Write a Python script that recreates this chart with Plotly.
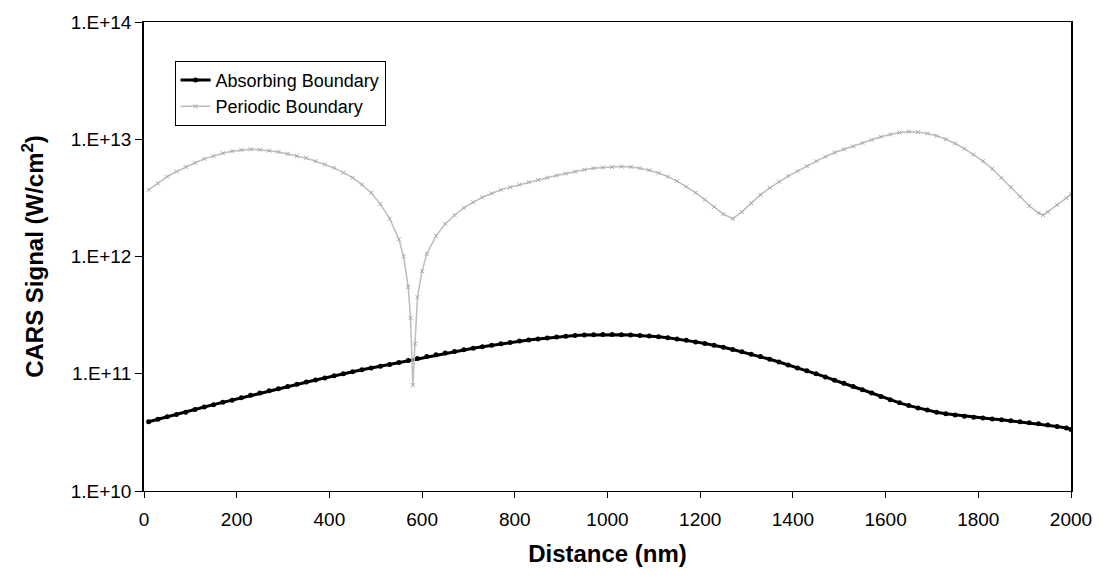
import plotly.graph_objects as go

# Distance grid (nm)
x_abs = [10, 30, 50, 70, 90, 110, 130, 150, 170, 190, 210, 230, 250, 270, 290, 310, 330, 350, 370, 390,
         410, 430, 450, 470, 490, 510, 530, 550, 570, 590, 610, 630, 650, 670, 690, 710, 730, 750, 770, 790,
         810, 830, 850, 870, 890, 910, 930, 950, 970, 990, 1010, 1030, 1050, 1070, 1090, 1110, 1130, 1150,
         1170, 1190, 1210, 1230, 1250, 1270, 1290, 1310, 1330, 1350, 1370, 1390, 1410, 1430, 1450, 1470,
         1490, 1510, 1530, 1550, 1570, 1590, 1610, 1630, 1650, 1670, 1690, 1710, 1730, 1750, 1770, 1790,
         1810, 1830, 1850, 1870, 1890, 1910, 1930, 1950, 1970, 1990, 2000]

# Absorbing boundary, units of 1E10 W/cm^2
abs_e10 = [3.9, 4.1, 4.3, 4.5, 4.7, 4.95, 5.2, 5.45, 5.7, 5.95, 6.25, 6.55, 6.85, 7.15, 7.45, 7.8, 8.15, 8.5, 8.85, 9.2,
           9.6, 10.0, 10.4, 10.8, 11.2, 11.6, 12.0, 12.5, 13.0, 13.5, 14.0, 14.5, 15.0, 15.5, 16.0, 16.5, 17.0, 17.5, 18.0, 18.5,
           19.0, 19.4, 19.8, 20.2, 20.6, 20.9, 21.2, 21.4, 21.5, 21.6, 21.6, 21.5, 21.4, 21.2, 21.0, 20.7, 20.3, 19.8,
           19.3, 18.7, 18.1, 17.5, 16.8, 16.1, 15.4, 14.7, 14.0, 13.3, 12.6, 11.9, 11.2, 10.6, 10.0, 9.4,
           8.8, 8.3, 7.8, 7.3, 6.85, 6.4, 6.0, 5.65, 5.35, 5.1, 4.9, 4.7, 4.55, 4.45, 4.35, 4.25,
           4.2, 4.12, 4.05, 3.97, 3.9, 3.82, 3.74, 3.65, 3.55, 3.45, 3.35]

x_per = [10, 30, 50, 70, 90, 110, 130, 150, 170, 190, 210, 230, 250, 270, 290, 310, 330, 350, 370, 390,
         410, 430, 450, 470, 490, 510, 530, 550, 560, 570, 575, 580, 585, 590, 600, 610, 630, 650, 670, 690,
         710, 730, 750, 770, 790, 810, 830, 850, 870, 890, 910, 930, 950, 970, 990, 1010, 1030, 1050, 1070,
         1090, 1110, 1130, 1150, 1170, 1190, 1210, 1230, 1250, 1270, 1290, 1310, 1330, 1350, 1370, 1390,
         1410, 1430, 1450, 1470, 1490, 1510, 1530, 1550, 1570, 1590, 1610, 1630, 1650, 1670, 1690, 1710,
         1730, 1750, 1770, 1790, 1810, 1830, 1850, 1870, 1890, 1910, 1930, 1940, 1950, 1970, 1990, 2000]

# Periodic boundary, units of 1E12 W/cm^2
per_e12 = [3.7, 4.2, 4.8, 5.3, 5.8, 6.3, 6.8, 7.2, 7.6, 7.9, 8.1, 8.2, 8.15, 8.0, 7.8, 7.5, 7.2, 6.9, 6.5, 6.1,
           5.7, 5.2, 4.7, 4.1, 3.5, 2.8, 2.1, 1.4, 1.0, 0.55, 0.3, 0.08, 0.18, 0.45, 0.75, 1.05, 1.5, 1.9, 2.25, 2.6,
           2.9, 3.2, 3.45, 3.7, 3.9, 4.1, 4.3, 4.5, 4.7, 4.9, 5.1, 5.3, 5.5, 5.65, 5.75, 5.8, 5.85, 5.8, 5.65,
           5.45, 5.15, 4.8, 4.4, 3.95, 3.5, 3.05, 2.65, 2.3, 2.1, 2.4, 2.85, 3.35, 3.85, 4.35, 4.85,
           5.35, 5.9, 6.5, 7.1, 7.7, 8.2, 8.7, 9.3, 9.9, 10.5, 11.0, 11.4, 11.6, 11.5, 11.2, 10.7,
           10.0, 9.2, 8.3, 7.4, 6.5, 5.6, 4.7, 3.9, 3.25, 2.7, 2.35, 2.25, 2.4, 2.75, 3.15, 3.4]

y_tick_vals = [1e10, 1e11, 1e12, 1e13, 1e14]
y_tick_text = ["1.E+10", "1.E+11", "1.E+12", "1.E+13", "1.E+14"]
x_tick_vals = [0, 200, 400, 600, 800, 1000, 1200, 1400, 1600, 1800, 2000]

abs_vals = [v * 1e10 for v in abs_e10]
per_vals = [v * 1e12 for v in per_e12]

fig = go.Figure()
fig.add_trace(go.Scatter(
    x=x_abs, y=abs_vals, mode="lines+markers", name="Absorbing Boundary",
    line=dict(color="black", width=3),
    marker=dict(symbol="circle", size=5, color="black"),
))
fig.add_trace(go.Scatter(
    x=x_per, y=per_vals, mode="lines+markers", name="Periodic Boundary",
    line=dict(color="#bdbdbd", width=1.5),
    marker=dict(symbol="x-thin", size=4, color="#a8a8a8", line=dict(color="#a8a8a8", width=1)),
))

font_family = "Liberation Sans, Arial, sans-serif"
fig.update_layout(
    width=1104, height=579,
    margin=dict(l=144, r=31, t=18, b=88),
    paper_bgcolor="white", plot_bgcolor="white",
    font=dict(family=font_family, size=19, color="black"),
    showlegend=True,
    legend=dict(
        x=0.033, y=0.9175, xanchor="left", yanchor="top",
        bgcolor="white", bordercolor="black", borderwidth=1,
        font=dict(size=18, color="black"),
        tracegroupgap=0, itemwidth=30,
    ),
    xaxis=dict(
        range=[0, 2000], tickvals=x_tick_vals, ticks="outside", ticklen=6,
        tickcolor="black", showline=True, linecolor="black", linewidth=1, mirror=True,
        showgrid=False, zeroline=False, ticklabelstandoff=5,
        title=dict(text="<b>Distance (nm)</b>", font=dict(size=24), standoff=16),
        tickfont=dict(size=19),
    ),
    yaxis=dict(
        type="log", range=[10, 14], tickvals=y_tick_vals, ticktext=y_tick_text,
        ticks="outside", ticklen=7, tickcolor="black",
        showline=True, linecolor="black", linewidth=1.5, mirror=True,
        showgrid=False, zeroline=False,
        title=dict(text="<b>CARS Signal (W/cm<sup>2</sup>)</b>", font=dict(size=24), standoff=20),
        tickfont=dict(size=19),
    ),
)

fig.write_html("out.html")
